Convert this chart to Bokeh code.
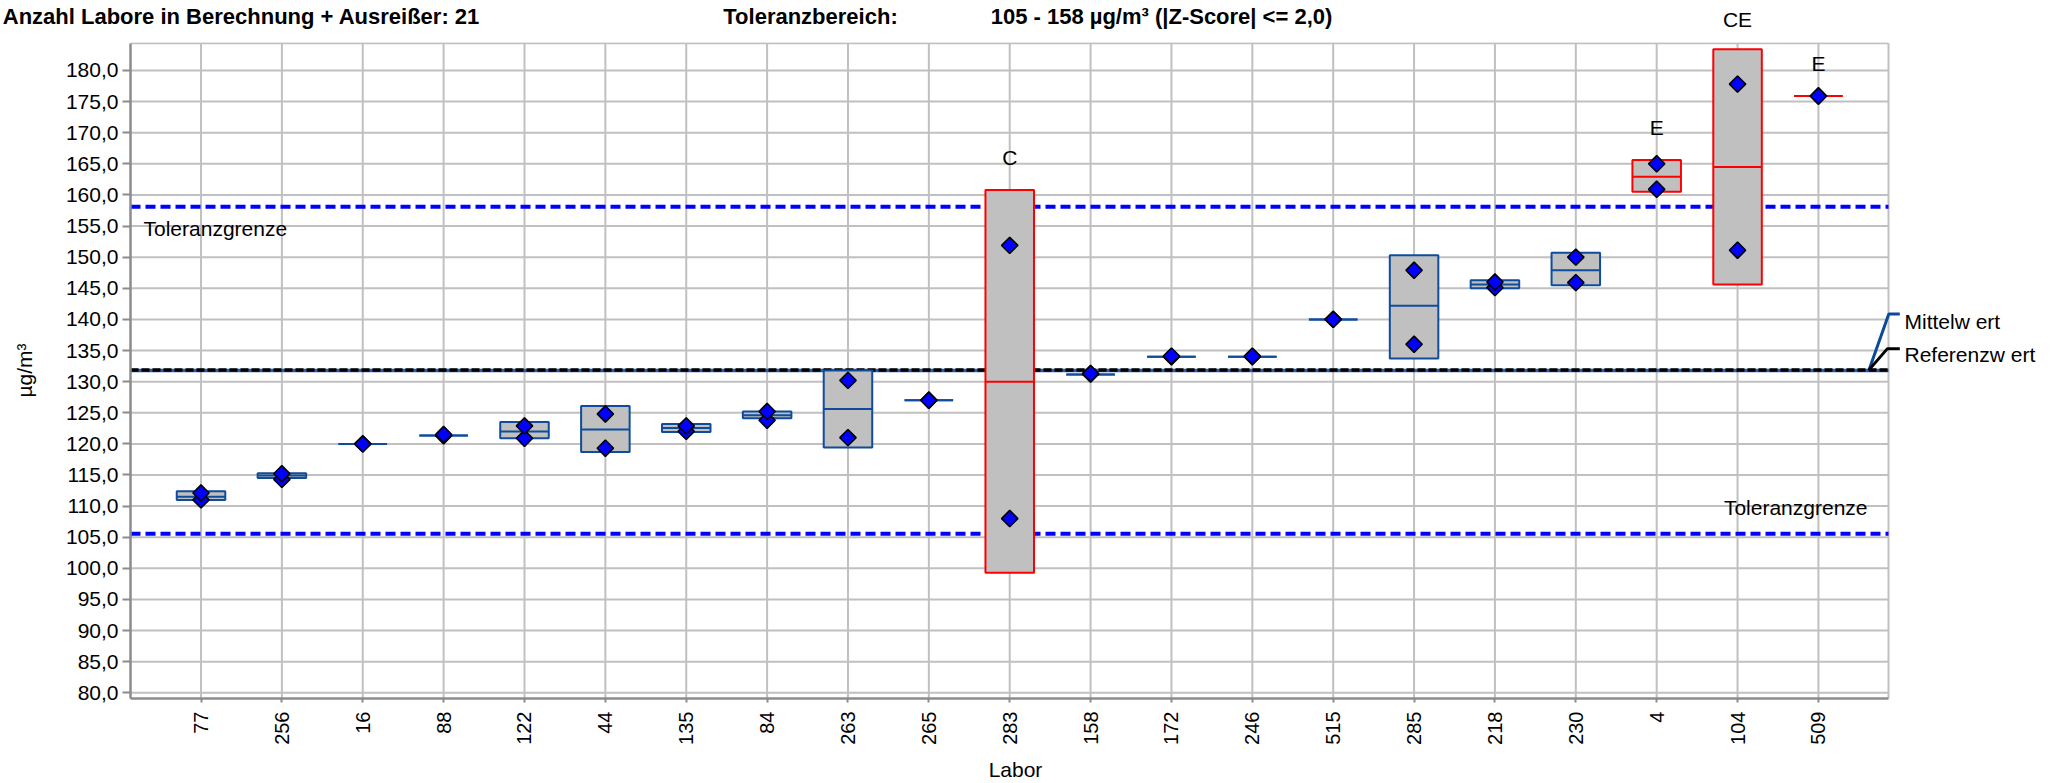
import math
from bokeh.plotting import figure
from bokeh.models import FixedTicker, LinearAxis, ColumnDataSource, Range1d
from bokeh.core.properties import value
from bokeh.embed import file_html
from bokeh.resources import INLINE

# ---------------- data ----------------
labs = ["77", "256", "16", "88", "122", "44", "135", "84", "263", "265", "283",
        "158", "172", "246", "515", "285", "218", "230", "4", "104", "509"]
box_low = [111.0, 114.5, 120.0, 121.35, 120.9, 118.7, 121.9, 124.1, 119.4, 127.0, 99.3,
           131.15, 134.0, 134.0, 140.0, 133.7, 145.0, 145.5, 160.5, 145.6, 175.9]
box_high = [112.4, 115.3, 120.0, 121.35, 123.5, 126.1, 123.2, 125.2, 131.8, 127.0, 160.8,
            131.15, 134.0, 134.0, 140.0, 150.3, 146.3, 150.7, 165.6, 183.4, 175.9]
box_mid = [111.5, 114.9, 120.0, 121.35, 122.0, 122.3, 122.55, 124.6, 125.6, 127.0, 130.0,
           131.15, 134.0, 134.0, 140.0, 142.2, 145.6, 147.9, 162.9, 164.5, 175.9]
result_1 = [112.1, 115.2, 120.0, 121.5, 122.9, 124.8, 122.9, 125.2, 130.2, 127.0, 151.9,
            131.3, 134.1, 134.1, 140.0, 147.9, 146.0, 150.0, 165.0, 177.8, 175.9]
result_2 = [111.0, 114.3, 120.0, 121.3, 120.9, 119.3, 122.0, 123.8, 121.0, 127.0, 108.0,
            131.2, 134.0, 134.0, 140.0, 136.0, 145.1, 145.9, 160.9, 151.1, 175.9]
flags = ["", "", "", "", "", "", "", "", "", "", "C",
         "", "", "", "", "", "", "", "E", "CE", "E"]

y_ticks = [80, 85, 90, 95, 100, 105, 110, 115, 120, 125, 130, 135, 140, 145,
           150, 155, 160, 165, 170, 175, 180]
y_tick_labels = {t: f"{t:.1f}".replace(".", ",") for t in y_ticks}

mean_value = 131.8
ref_value = 131.85
tol_low = 105.55
tol_high = 158.1

title_parts = ["Anzahl Labore in Berechnung + Ausreißer:  21",
               "Toleranzbereich:",
               "105 - 158 µg/m³ (|Z-Score| <= 2,0)"]
legend_texts = ["Mittelw ert", "Referenzw ert"]
tol_text = "Toleranzgrenze"

# ---------------- layout (pixels of the canvas) ----------------
W, H = 2063, 783
FL, FR, FT, FB = 130, 1900, 41, 699          # Bokeh frame
BOX_R_PX, BOX_T_PX = 1888, 41.7              # visible plot box right / top
PPU_X, X_AT_FL = 80.87, -0.872
PPU_Y, Y_AT_FB = 6.243, 79.09


def dx(px):
    return X_AT_FL + (px - FL) / PPU_X


def dy(py):
    return Y_AT_FB + (FB - py) / PPU_Y


X0, X1 = dx(FL), dx(FR)
Y0, Y1 = dy(FB), dy(FT)
XR, YT = dx(BOX_R_PX), dy(BOX_T_PX)

FONT = "Liberation Sans"
BLUE = "#0f4c9c"
RED = "#ff0000"
GRID = "#c0c0c0"
AXIS = "#8c8c8c"

p = figure(width=W, height=H, x_range=Range1d(X0, X1), y_range=Range1d(Y0, Y1),
           output_backend="svg", toolbar_location=None,
           min_border_left=FL, min_border_right=W - FR,
           min_border_top=FT, min_border_bottom=H - FB)
p.background_fill_color = "white"
p.border_fill_color = "white"
p.outline_line_color = None
p.xgrid.visible = False
p.ygrid.visible = False

xs = list(range(len(labs)))
p.xaxis.ticker = FixedTicker(ticks=xs)
p.yaxis.ticker = FixedTicker(ticks=y_ticks)
p.xaxis.major_label_overrides = {i: lab for i, lab in enumerate(labs)}
p.yaxis.major_label_overrides = y_tick_labels
p.xaxis.major_label_orientation = math.pi / 2
p.xaxis.bounds = (X0, XR)
p.yaxis.bounds = (Y0, YT)

for ax in (p.xaxis, p.yaxis):
    ax.axis_line_color = AXIS
    ax.axis_line_width = 2.5
    ax.major_tick_line_color = AXIS
    ax.major_tick_line_width = 2
    ax.major_tick_in = 0
    ax.minor_tick_line_color = None
    ax.major_label_text_font = FONT
    ax.major_label_text_color = "black"
    ax.axis_label_text_font = FONT
    ax.axis_label_text_font_style = "normal"
    ax.axis_label_text_color = "black"
    ax.axis_label_text_font_size = "21px"

p.xaxis.major_tick_out = 4
p.xaxis.major_label_standoff = 9
p.xaxis.major_label_text_font_size = "20px"
p.xaxis.axis_label = "Labor"
p.xaxis.axis_label_standoff = 10

p.yaxis.major_tick_out = 8
p.yaxis.major_label_standoff = 4
p.yaxis.major_label_text_font_size = "21px"
p.yaxis.axis_label = "µg/m³"
p.yaxis.axis_label_standoff = 27

# ---- grid and visible plot box ----
p.segment(x0=xs, x1=xs, y0=[Y0] * len(xs), y1=[YT] * len(xs),
          line_color=GRID, line_width=2)
p.segment(x0=[X0] * len(y_ticks), x1=[XR] * len(y_ticks), y0=y_ticks, y1=y_ticks,
          line_color=GRID, line_width=2)
p.segment(x0=[X0, XR], x1=[XR, XR], y0=[YT, Y0], y1=[YT, YT],
          line_color=GRID, line_width=2)

# ---- reference lines ----
p.line(x=[X0, XR], y=[tol_high, tol_high], line_color="#0000ff", line_width=4,
       line_dash="10 5")
p.line(x=[X0, XR], y=[tol_low, tol_low], line_color="#0000ff", line_width=4,
       line_dash="10 5")
p.line(x=[X0, XR], y=[mean_value, mean_value], line_color="#2a5ea8", line_width=3.5)
p.line(x=[X0, XR], y=[ref_value, ref_value], line_color="black", line_width=3.5,
       line_dash="8 3")

# ---- boxes ----
colors = [RED if f else BLUE for f in flags]
half = 0.3
src = ColumnDataSource(dict(
    x=xs, left=[x - half for x in xs], right=[x + half for x in xs],
    low=box_low, high=box_high, mid=box_mid, r1=result_1, r2=result_2,
    color=colors))
p.quad(left="left", right="right", bottom="low", top="high", source=src,
       fill_color="#c0c0c0", line_color="color", line_width=2)
p.segment(x0="left", x1="right", y0="mid", y1="mid", source=src,
          line_color="color", line_width=2)
for col in ("r2", "r1"):
    p.scatter(x="x", y=col, source=src, marker="square", angle=math.pi / 4,
              size=11.5, fill_color="#0000ff", line_color="black", line_width=1.6)

# ---- flags above boxes ----
gap = 32.5 / PPU_Y
in_idx = [i for i, f in enumerate(flags) if f and box_high[i] + gap < YT - 1]
top_idx = [i for i, f in enumerate(flags) if f and i not in in_idx]
p.text(x=in_idx, y=[box_high[i] + gap for i in in_idx], text=[flags[i] for i in in_idx],
       text_align="center", text_baseline="middle", text_font=value(FONT),
       text_font_size="21px", text_color="black")

# ---- tolerance texts ----
p.text(x=[dx(143)], y=[tol_high - 22.3 / PPU_Y], text=[tol_text], text_align="left",
       text_baseline="middle", text_font=value(FONT), text_font_size="21px",
       text_color="black")
p.text(x=[dx(1867)], y=[tol_low + 26 / PPU_Y], text=[tol_text], text_align="right",
       text_baseline="middle", text_font=value(FONT), text_font_size="21px",
       text_color="black")

# ---- legend leaders ----
xa = dx(1868.3)
p.line(x=[xa, dx(1888.3), dx(1899.3)], y=[mean_value, dy(313.3), dy(313.3)],
       line_color="#0b4a9a", line_width=3)
p.line(x=[xa, dx(1886.7), dx(1899.3)], y=[ref_value, dy(348.3), dy(348.3)],
       line_color="black", line_width=3)

# ---- title row (above axis; its labels are not clipped by the frame) ----
t_ticks = [round(dx(244), 4), round(dx(810), 4), round(dx(1161), 4)]
t_labels = {t_ticks[0]: title_parts[0], t_ticks[1]: title_parts[1],
            t_ticks[2]: title_parts[2]}
top_axis = LinearAxis(ticker=FixedTicker(ticks=t_ticks), major_label_overrides=t_labels,
                      axis_line_color=None, major_tick_line_color=None,
                      minor_tick_line_color=None, major_tick_in=0, major_tick_out=0,
                      major_label_standoff=14, major_label_text_font=FONT,
                      major_label_text_font_size="22px",
                      major_label_text_font_style="bold",
                      major_label_text_color="black")
p.add_layout(top_axis, "above")

# flags that sit above the plot box, in the same row as the title (normal weight)
flag_axis = LinearAxis(ticker=FixedTicker(ticks=top_idx),
                       major_label_overrides={i: flags[i] for i in top_idx},
                       axis_line_color=None, major_tick_line_color=None,
                       minor_tick_line_color=None, major_tick_in=0, major_tick_out=0,
                       major_label_standoff=-30, major_label_text_font=FONT,
                       major_label_text_font_size="21px",
                       major_label_text_color="black")
p.add_layout(flag_axis, "above")

# ---- legend texts (right axis) ----
r_ticks = [round(dy(320.5), 3), round(dy(354.0), 3)]
right_axis = LinearAxis(ticker=FixedTicker(ticks=r_ticks),
                        major_label_overrides={r_ticks[0]: legend_texts[0],
                                               r_ticks[1]: legend_texts[1]},
                        axis_line_color=None, major_tick_line_color=None,
                        minor_tick_line_color=None, major_tick_in=0, major_tick_out=0,
                        major_label_standoff=4, major_label_text_font=FONT,
                        major_label_text_font_size="21px",
                        major_label_text_color="black")
p.add_layout(right_axis, "right")

open("out.html", "w").write(file_html(p, INLINE))
